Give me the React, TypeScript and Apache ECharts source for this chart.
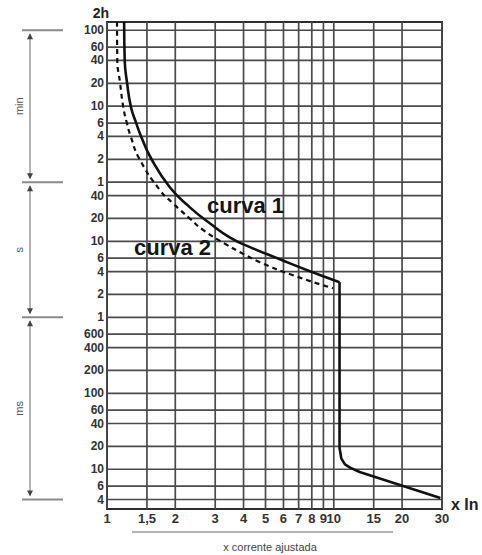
import React, { useEffect, useRef } from 'react';
import * as echarts from 'echarts';

// X axis: multiples of the nominal current (log scale)
const xRange = [1, 30];
const xTickValues = [1, 1.5, 2, 3, 4, 5, 6, 7, 8, 9, 10, 15, 20, 30];
const xTickLabels = ['1', '1,5', '2', '3', '4', '5', '6', '7', '8', '9', '10', '15', '20', '30'];

// Y axis: time in seconds (log scale), labelled in min / s / ms
const yRangeSeconds = [0.003, 7700];
const yTickSeconds = [6000, 3600, 2400, 1200, 600, 360, 240, 120, 60, 40, 20, 10, 6, 4, 2, 1, 0.6, 0.4, 0.2, 0.1, 0.06, 0.04, 0.02, 0.01, 0.006, 0.004];
const yTickLabels = ['100', '60', '40', '20', '10', '6', '4', '2', '1', '40', '20', '10', '6', '4', '2', '1', '600', '400', '200', '100', '60', '40', '20', '10', '6', '4'];

// Unit ranges drawn at the left (boundaries in seconds)
const unitBoundsSeconds = [6000, 60, 1, 0.004];
const unitNames = ['min', 's', 'ms'];

// curva 1 (solid)
const curve1UpperCurrent = [1.19, 1.197, 1.225, 1.276, 1.342, 1.413, 1.563, 1.896, 2.32, 2.84, 3.49, 4.27, 5.79, 7.85, 10.6];
const curve1UpperTime = [7700, 2410, 1240, 581, 368, 241, 124, 51, 28, 17.3, 11.2, 8.4, 5.8, 4.04, 2.9];
const curve1LowerCurrent = [10.6, 10.6, 10.8, 11.2, 11.8, 13.0, 29.5];
const curve1LowerTime = [2.9, 0.019, 0.0138, 0.0116, 0.0105, 0.0092, 0.0042];

// curva 2 (dashed)
const curve2Current = [1.107, 1.11, 1.141, 1.18, 1.221, 1.272, 1.385, 1.713, 1.96, 2.32, 2.66, 3.31, 3.86, 4.73, 6.61, 9.92];
const curve2Time = [7700, 2410, 1240, 581, 368, 241, 124, 47, 31.4, 19.9, 14.0, 9.3, 7.2, 5.3, 3.57, 2.41];

const lg = Math.log10;

export default function App() {
  const ref = useRef<HTMLDivElement>(null);

  useEffect(() => {
    const el = ref.current;
    if (!el) return;
    const chart = echarts.init(el, null, { renderer: 'svg' });

    const xMin = lg(xRange[0]);
    const xMax = lg(xRange[1]);
    const yMin = lg(yRangeSeconds[0]);
    const yMax = lg(yRangeSeconds[1]);

    const nearestLabel = (vals: number[], labels: string[]) => (v: number) => {
      let best = 0;
      let bd = Infinity;
      vals.forEach((t, i) => {
        const d = Math.abs(lg(t) - v);
        if (d < bd) { bd = d; best = i; }
      });
      return labels[best];
    };
    const toPts = (xs: number[], ts: number[]) => xs.map((x, i) => [lg(x), lg(ts[i])]);

    const gridColor = '#4a4a4a';
    const font = 'Liberation Sans, Arial, sans-serif';

    const option: any = {
      animation: false,
      backgroundColor: '#ffffff',
      grid: {
        left: 107, top: 22, width: 335, height: 487,
        show: true, borderColor: '#2e2e2e', borderWidth: 2, backgroundColor: 'transparent',
      },
      xAxis: {
        type: 'value', min: xMin, max: xMax,
        axisLine: { show: false }, axisTick: { show: false }, splitLine: { show: false },
        axisLabel: {
          customValues: xTickValues.map(lg),
          formatter: nearestLabel(xTickValues, xTickLabels),
          margin: 3, fontSize: 13, fontWeight: 'bold', color: '#333', lineHeight: 12,
          fontFamily: font,
        },
      },
      yAxis: {
        type: 'value', min: yMin, max: yMax,
        axisLine: { show: false }, axisTick: { show: false }, splitLine: { show: false },
        axisLabel: {
          customValues: yTickSeconds.map(lg),
          formatter: nearestLabel(yTickSeconds, yTickLabels),
          margin: 3, fontSize: 12, fontWeight: 'bold', color: '#333', lineHeight: 10,
          fontFamily: font,
        },
      },
      series: [
        {
          type: 'custom', z: 1, silent: true,
          data: yTickSeconds.map((s) => [xMin, lg(s)]),
          renderItem: (params: any, api: any) => {
            const cs = params.coordSys;
            const y = api.coord([api.value(0), api.value(1)])[1];
            return {
              type: 'line',
              shape: { x1: cs.x, y1: y, x2: cs.x + cs.width, y2: y },
              style: { stroke: gridColor, lineWidth: 1.7 },
            };
          },
        },
        {
          type: 'custom', z: 1, silent: true,
          data: xTickValues.map((v) => [lg(v), yMin]),
          renderItem: (params: any, api: any) => {
            const cs = params.coordSys;
            const x = api.coord([api.value(0), api.value(1)])[0];
            return {
              type: 'line',
              shape: { x1: x, y1: cs.y, x2: x, y2: cs.y + cs.height },
              style: { stroke: gridColor, lineWidth: 1.7 },
            };
          },
        },
        {
          name: 'curva 2', type: 'line', z: 3, symbol: 'none', smooth: 0.5,
          data: toPts(curve2Current, curve2Time),
          lineStyle: { color: '#111', width: 2.2, type: [5, 4] },
        },
        {
          name: 'curva 1', type: 'line', z: 4, symbol: 'none', smooth: 0.5,
          data: toPts(curve1UpperCurrent, curve1UpperTime),
          lineStyle: { color: '#111', width: 2.6 },
        },
        {
          name: 'curva 1 (inst.)', type: 'line', z: 4, symbol: 'none', smooth: false,
          data: toPts(curve1LowerCurrent, curve1LowerTime),
          lineStyle: { color: '#111', width: 2.6, join: 'round' },
        },
      ],
    };

    chart.setOption(option);

    const ys = unitBoundsSeconds.map((s) => (chart.convertToPixel({ gridIndex: 0 }, [xMin, lg(s)]) as number[])[1]);
    const ax = 30;
    const graphics: any[] = [];
    ys.forEach((y) => {
      graphics.push({ type: 'line', shape: { x1: 22, y1: y, x2: 63, y2: y }, style: { stroke: '#8a8a8a', lineWidth: 2 } });
    });
    for (let i = 0; i < unitNames.length; i++) {
      const a = ys[i];
      const b = ys[i + 1];
      graphics.push({ type: 'line', shape: { x1: ax, y1: a + 4, x2: ax, y2: b - 4 }, style: { stroke: '#666', lineWidth: 1 } });
      graphics.push({ type: 'polygon', shape: { points: [[ax, a + 3], [ax - 3, a + 9], [ax + 3, a + 9]] }, style: { fill: '#444' } });
      graphics.push({ type: 'polygon', shape: { points: [[ax, b - 3], [ax - 3, b - 9], [ax + 3, b - 9]] }, style: { fill: '#444' } });
      graphics.push({
        type: 'text', x: 19, y: (a + b) / 2, rotation: Math.PI / 2,
        style: {
          text: unitNames[i], x: 0, y: 0, fill: '#555', fontSize: 11, fontFamily: font,
          align: 'center', verticalAlign: 'middle', textAlign: 'center', textVerticalAlign: 'middle',
        },
      });
    }
    const txt = (text: string, x: number, y: number, size: number, weight: string, color: string, align = 'left') => ({
      type: 'text', z: 10,
      style: {
        text, x, y, fill: color, fontSize: size, fontWeight: weight, fontFamily: font,
        align, verticalAlign: 'middle', textAlign: align, textVerticalAlign: 'middle',
      },
    });
    graphics.push(txt('2h', 101, 13, 14, 'bold', '#222', 'center'));
    graphics.push(txt('curva 1', 207, 205, 22, 'bold', '#151515'));
    graphics.push(txt('curva 2', 134, 247, 22, 'bold', '#151515'));
    graphics.push(txt('x In', 451, 504, 16, 'bold', '#222'));
    graphics.push({ type: 'line', shape: { x1: 132, y1: 532, x2: 393, y2: 532 }, style: { stroke: '#666', lineWidth: 1.2 } });
    graphics.push(txt('x corrente ajustada', 270, 547, 11, 'normal', '#444', 'center'));

    chart.setOption({ graphic: graphics });

    return () => chart.dispose();
  }, []);

  return (
    <div
      ref={ref}
      style={{ position: 'fixed', left: 0, top: 0, width: 482, height: 555, background: '#fff' }}
    />
  );
}
